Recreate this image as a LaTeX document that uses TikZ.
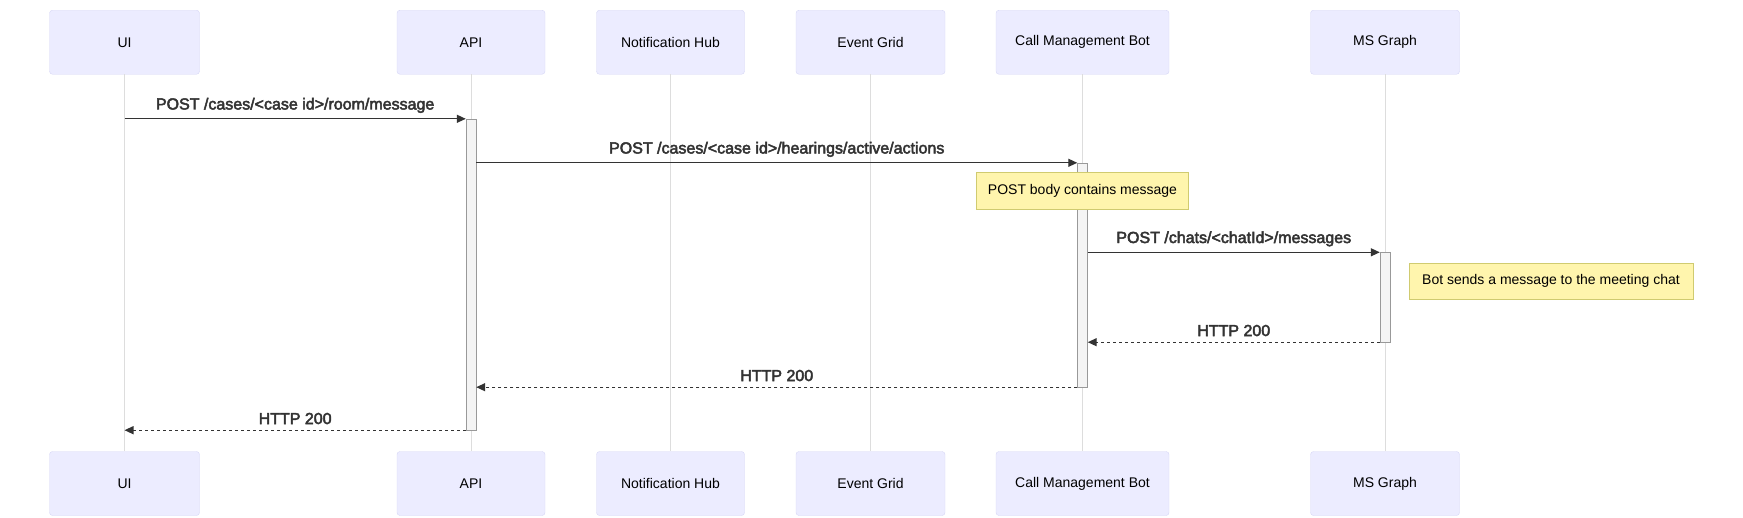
\documentclass[tikz,border=0pt]{standalone}
\usepackage{fontspec}
\setmainfont{Liberation Sans}
\newfontfamily\msgfont{Liberation Sans}[FakeBold=3]
\usetikzlibrary{arrows.meta}
\definecolor{actorfill}{HTML}{ECECFF}
\definecolor{actorline}{HTML}{D6D6F5}
\definecolor{lifegray}{HTML}{DDDDDD}
\definecolor{actfill}{HTML}{F4F4F4}
\definecolor{actline}{HTML}{999999}
\definecolor{msgcolor}{HTML}{333333}
\definecolor{notefill}{HTML}{FFF5AD}
\definecolor{notedraw}{HTML}{D0CB70}

\begin{document}
\begin{tikzpicture}[x=1pt,y=-1pt,
	actor/.style={draw=actorline,fill=actorfill,rounded corners=3pt,minimum height=64pt,
		inner sep=0pt,font=\fontsize{14}{16}\selectfont},
	lifeline/.style={draw=lifegray,line width=1pt},
	activation/.style={draw=actline,fill=actfill,minimum width=10pt,inner sep=0pt},
	msg/.style={draw=msgcolor,line width=1.3pt,-{Triangle[length=9pt,width=8pt]}},
	reply/.style={msg,dash pattern=on 3pt off 3pt},
	msglabel/.style={midway,above,yshift=2pt,text=msgcolor,font=\msgfont\fontsize{16}{19}\selectfont},
	note/.style={draw=notedraw,fill=notefill,inner sep=0pt,font=\fontsize{14}{16}\selectfont}]
\useasboundingbox (0,0) rectangle (1743,517);

\foreach \n/\x/\w/\t in {ui/124.5/150/UI, api/471/148/API, hub/670.5/148/Notification Hub,
	grid/870.5/149/Event Grid, bot/1082.5/173/Call Management Bot, graph/1385/149/MS Graph}
{
	\node[actor,minimum width=\w pt] (\n-top) at (\x,42.25) {\t};
	\node[actor,minimum width=\w pt] (\n-bot) at (\x,483.5) {\t};
	\draw[lifeline] (\n-top) -- (\n-bot);
}

\node[activation,minimum height=311pt] (apiact) at (471,274.5) {};
\node[activation,minimum height=224pt] (botact) at (1082.5,275) {};
\node[activation,minimum height=89.5pt] (graphact) at (1385,297.25) {};

\node[note,minimum width=212pt,minimum height=37pt] (bodynote) at (1082.5,190.5) {POST body contains message};
\node[note,minimum width=284pt,minimum height=36.5pt] (chatnote) at (1551,281) {Bot sends a message to the meeting chat};

\draw[msg] (ui-top |- apiact.north) -- (apiact.north west)
	node[msglabel] {POST /cases/<case id>/room/message};
\draw[msg] (apiact.east |- botact.north) -- (botact.north west)
	node[msglabel] {POST /cases/<case id>/hearings/active/actions};
\draw[msg] (botact.east |- graphact.north) -- (graphact.north west)
	node[msglabel] {POST /chats/<chatId>/messages};
\draw[reply] (graphact.south west) -- (botact.east |- graphact.south)
	node[msglabel] {HTTP 200};
\draw[reply] (botact.south west) -- (apiact.east |- botact.south)
	node[msglabel] {HTTP 200};
\draw[reply] (apiact.south west) -- (ui-top |- apiact.south)
	node[msglabel] {HTTP 200};
\end{tikzpicture}
\end{document}
